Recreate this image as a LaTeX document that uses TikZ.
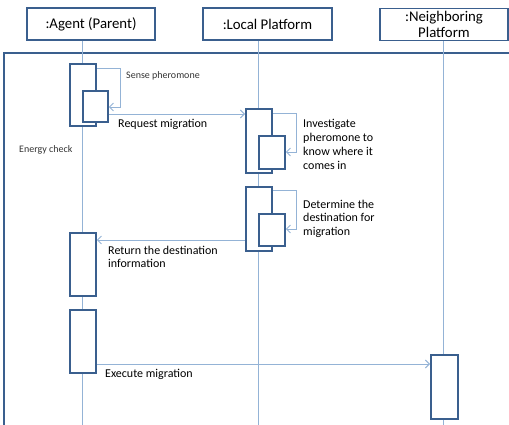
\documentclass[tikz,border=0pt]{standalone}
\usepackage{fontspec}
\setmainfont{Carlito}
\usetikzlibrary{arrows.meta}
\definecolor{boxblue}{HTML}{3A5F8E}
\definecolor{lineblue}{HTML}{94B3D6}
\tikzset{
  head/.style={draw=boxblue, line width=1.4pt, fill=white, minimum height=32pt,
    align=center, font=\fontsize{14.8}{16.5}\selectfont, inner sep=0pt},
  act/.style={draw=boxblue, line width=1.8pt, fill=white, anchor=north west, inner sep=0pt},
  life/.style={draw=lineblue, line width=0.9pt},
  msg/.style={draw=lineblue, line width=0.9pt, -{Straight Barb[length=4pt,width=8pt]}},
  lbl/.style={anchor=west, inner sep=0pt, align=left, font=\fontsize{12}{13.8}\selectfont},
  small/.style={anchor=west, inner sep=0pt, font=\fontsize{10}{12}\selectfont, text=black!80},
}
\begin{document}
\begin{tikzpicture}[x=1pt, y=-1pt]
\useasboundingbox (0,0) rectangle (509,425);
\clip (0,0) rectangle (509,425);

% frame around the interaction
\draw[boxblue, line width=1.6pt] (4,440) -- (4,53) -- (530,53);

% lifeline heads
\node[head, minimum width=128pt] (agent) at (91,24) {:Agent (Parent)};
\node[head, minimum width=129pt] (local) at (267.5,24) {:Local Platform};
\node[head, minimum width=128pt] (neigh) at (444,24.5) {:Neighboring\\Platform};

% lifelines
\coordinate (agentEnd) at (82,440);
\coordinate (localEnd) at (258,440);
\coordinate (neighEnd) at (443,440);
\draw[life] (agent.south -| agentEnd) -- (agentEnd);
\draw[life] (local.south -| localEnd) -- (localEnd);
\draw[life] (neigh.south -| neighEnd) -- (neighEnd);

% agent activations
\node[act, minimum width=26pt, minimum height=62pt] (a1) at (69,63) {};
\node[act, minimum width=25pt, minimum height=31pt] (a1s) at (82,90) {};
\node[act, minimum width=26pt, minimum height=63pt] (a2) at (69,232) {};
\node[act, minimum width=26pt, minimum height=63pt] (a3) at (69,309) {};

% local platform activations
\node[act, minimum width=26pt, minimum height=64pt] (l1) at (245,108) {};
\node[act, minimum width=26pt, minimum height=33pt] (l1s) at (258,135) {};
\node[act, minimum width=26pt, minimum height=64pt] (l2) at (245,186) {};
\node[act, minimum width=26pt, minimum height=32pt] (l2s) at (258,213) {};

% neighboring platform activation
\node[act, minimum width=27pt, minimum height=64pt] (n1) at (430,354) {};

% self calls
\coordinate (s1) at (120,68);
\draw[msg] (a1.east |- s1) -- (s1) |- (a1s.east |- 0,107);
\coordinate (s2) at (296,113);
\draw[msg] (l1.east |- s2) -- (s2) |- (l1s.east |- 0,152);
\coordinate (s3) at (296,190);
\draw[msg] (l2.east |- s3) -- (s3) |- (l2s.east |- 0,229);

% messages
\draw[msg] (a1s.east |- 0,114) -- (l1.west |- 0,114);
\draw[msg] (l2.west |- 0,240) -- (a2.east |- 0,240);
\draw[msg] (a3.east |- 0,364) -- (n1.west |- 0,364);

% labels
\node[small] (t1) at (126,76) {Sense pheromone};
\node[small] (t2) at (19,150) {Energy check};
\node[lbl] (t3) at (118,124) {Request migration};
\node[lbl, anchor=north west] (t4) at (303,119.5) {Investigate\\pheromone to\\know where it\\comes in};
\node[lbl, anchor=north west] (t5) at (303,199.5) {Determine the\\destination for\\migration};
\node[lbl, anchor=north west] (t6) at (108,245.5) {Return the destination\\information};
\node[lbl] (t7) at (105,374) {Execute migration};
\end{tikzpicture}
\end{document}
